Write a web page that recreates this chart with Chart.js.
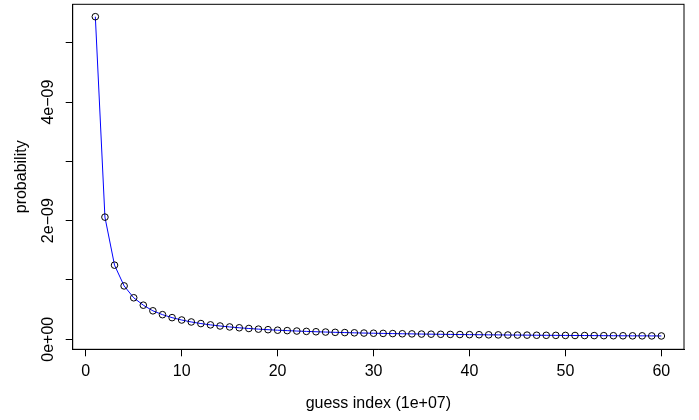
<!DOCTYPE html>
<html>
<head>
<meta charset="utf-8">
<script src="https://cdn.jsdelivr.net/npm/chart.js@4.4.1/dist/chart.umd.min.js"></script>
<style>
html,body{margin:0;padding:0;background:#fff;}
#wrap{width:699px;height:420px;}
</style>
</head>
<body>
<div id="wrap"><canvas id="c" width="699" height="420"></canvas></div>
<script>
// guess index (units of 1e+07)
const guessIndex = [1,2,3,4,5,6,7,8,9,10,11,12,13,14,15,16,17,18,19,20,
  21,22,23,24,25,26,27,28,29,30,31,32,33,34,35,36,37,38,39,40,
  41,42,43,44,45,46,47,48,49,50,51,52,53,54,55,56,57,58,59,60];
// probability (in units of 1e-09)
const probE9 = [5.44,2.06,1.25,0.90,0.70,0.575,0.48,0.415,0.365,0.325,
  0.292,0.265,0.243,0.224,0.208,0.194,0.182,0.171,0.162,0.153,
  0.146,0.139,0.133,0.127,0.122,0.117,0.113,0.109,0.105,0.102,
  0.099,0.096,0.093,0.091,0.088,0.086,0.084,0.082,0.080,0.078,
  0.077,0.075,0.074,0.072,0.071,0.070,0.068,0.067,0.066,0.065,
  0.064,0.063,0.062,0.061,0.060,0.059,0.058,0.058,0.057,0.056];
const xTicks = [0,10,20,30,40,50,60];
const yTicks = [0,1e-9,2e-9,3e-9,4e-9,5e-9];
const yLabelValues = [0,2e-9,4e-9];
const yLabelTexts = ["0e+00","2e\u221209","4e\u221209"];
const xTitle = "guess index (1e+07)";
const yTitle = "probability";

const FONT = "'Liberation Sans', Arial, Helvetica, sans-serif";
const points = guessIndex.map((x,i)=>({x:x, y:probE9[i]*1e-9}));

const boxPlugin = {
  id:'box',
  afterDraw(chart){
    const {ctx, chartArea:a} = chart;
    ctx.save();
    ctx.strokeStyle='#000'; ctx.lineWidth=1;
    ctx.strokeRect(a.left, a.top, a.right-a.left, a.bottom-a.top);
    // rotated y tick labels (R style)
    const ys = chart.scales.y;
    ctx.fillStyle='#000';
    ctx.font = "16px " + FONT;
    ctx.textAlign='center'; ctx.textBaseline='middle';
    yLabelValues.forEach((v,i)=>{
      const py = ys.getPixelForValue(v);
      ctx.save();
      ctx.translate(48.5, py);
      ctx.rotate(-Math.PI/2);
      ctx.fillText(yLabelTexts[i], 0, 0);
      ctx.restore();
    });
    ctx.restore();
  }
};

new Chart(document.getElementById('c'), {
  type:'line',
  data:{ datasets:[{
    data: points,
    borderColor:'#0000ff',
    borderWidth:1,
    tension:0,
    pointRadius:3.3,
    pointHoverRadius:3.3,
    pointBorderColor:'#000',
    pointBackgroundColor:'rgba(0,0,0,0)',
    pointBorderWidth:1,
    fill:false
  }]},
  options:{
    responsive:false,
    animation:false,
    devicePixelRatio:1,
    layout:{padding:{left:0,top:4.3,right:15,bottom:0}},
    plugins:{legend:{display:false}, tooltip:{enabled:false}},
    events:[],
    scales:{
      x:{
        type:'linear',
        min:-1.36, max:62.36,
        afterBuildTicks(s){ s.ticks = xTicks.map(v=>({value:v})); },
        afterFit(s){ s.height = 420-349.3; },
        grid:{drawOnChartArea:false, drawTicks:true, tickLength:7, tickColor:'#000', tickWidth:1},
        border:{display:true, color:'#000', width:1},
        ticks:{color:'#000', font:{family:FONT, size:16}, padding:5.6, maxRotation:0, autoSkip:false,
          callback:(v)=>String(v)},
        title:{display:true, text:xTitle, color:'#000', font:{family:FONT, size:16}, padding:{top:0,bottom:6.9}}
      },
      y:{
        type:'linear',
        min:-0.169e-9, max:5.649e-9,
        afterBuildTicks(s){ s.ticks = yTicks.map(v=>({value:v})); },
        afterFit(s){ s.width = 72.7; },
        grid:{drawOnChartArea:false, drawTicks:true, tickLength:7, tickColor:'#000', tickWidth:1},
        border:{display:true, color:'#000', width:1},
        ticks:{display:false},
        title:{display:true, text:yTitle, color:'#000', font:{family:FONT, size:16}, padding:{top:12.4,bottom:0}}
      }
    }
  },
  plugins:[boxPlugin]
});
</script>
</body>
</html>
